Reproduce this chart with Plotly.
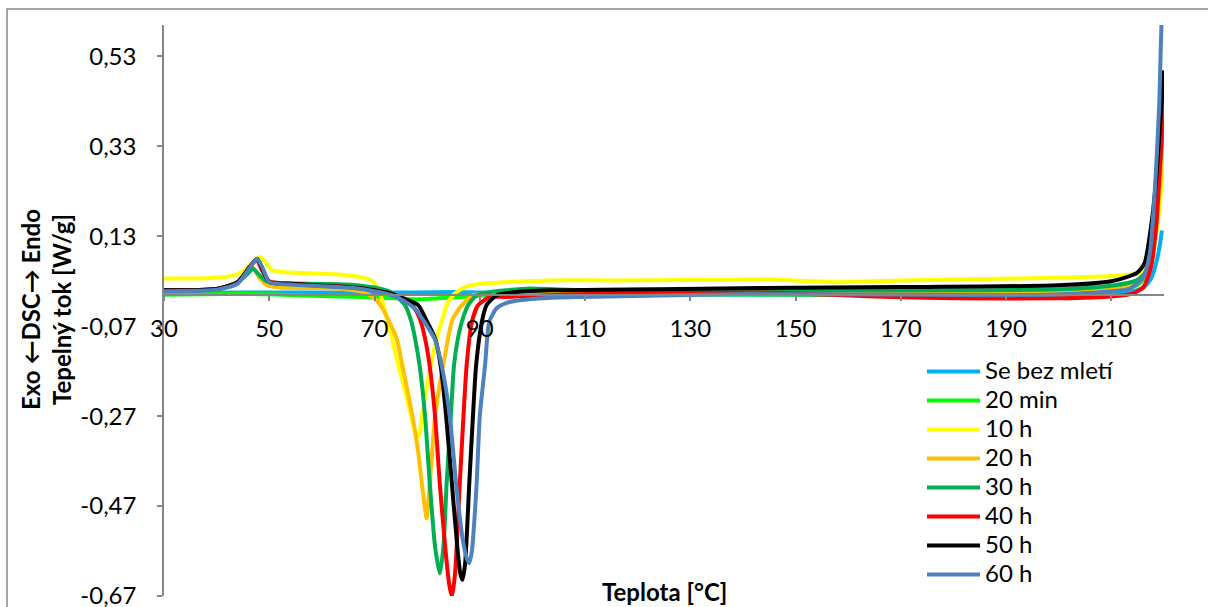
import plotly.graph_objects as go

# ---------------- data ----------------
series_names = ["Se bez mletí", "20 min", "10 h", "20 h", "30 h", "40 h", "50 h", "60 h"]
series_colors = ["#00B0F0", "#00FF00", "#FFFF00", "#FFC000", "#00B050", "#FF0000", "#000000", "#4F81BD"]

x_se = [30, 45, 60, 70, 78, 85, 90, 100, 120, 150, 180, 200, 210, 214, 216, 217.5, 218.5, 219.2, 219.6]
y_se = [0.004, 0.005, 0.005, 0.005, 0.005, 0.006, 0.005, 0.003, 0.001, 0.0, -0.001, 0.0, 0.004, 0.008,
        0.015, 0.035, 0.07, 0.11, 0.143]

x_20min = [30, 45, 50, 60, 68, 74, 78, 82, 86, 90, 100, 130, 160, 190, 205, 212, 215, 217, 218.5, 219.3, 220]
y_20min = [0.0, 0.002, 0.001, -0.003, -0.005, -0.008, -0.010, -0.008, -0.005, -0.002, 0.0, 0.001, 0.0, 0.0,
           0.004, 0.012, 0.022, 0.05, 0.14, 0.26, 0.366]

x_10h = [30, 38, 43, 45.5, 47, 48.2, 49.3, 50.5, 53, 58, 63, 67, 69, 69.8, 70.8, 71.7, 72.5, 73.3, 74.4,
         75.5, 76.7, 77.6, 78.3, 78.7, 79.0, 80.0, 81.0, 82.0, 83.0, 83.8, 85.0, 86.5, 88.0, 90.7, 95, 103,
         115, 130, 145, 158, 170, 185, 200, 210, 214.8, 216.5, 218, 219.2, 220]
y_10h = [0.036, 0.037, 0.042, 0.056, 0.072, 0.084, 0.072, 0.055, 0.050, 0.048, 0.045, 0.040, 0.034, 0.028,
         0.010, -0.023, -0.06, -0.097, -0.15, -0.20, -0.257, -0.30, -0.316, -0.30, -0.27, -0.20, -0.14,
         -0.09, -0.05, -0.02, 0.0, 0.013, 0.020, 0.025, 0.028, 0.032, 0.032, 0.033, 0.034, 0.028, 0.032,
         0.035, 0.038, 0.042, 0.047, 0.06, 0.10, 0.20, 0.321]

x_20h = [30, 40, 44, 46, 46.8, 48, 49.5, 52, 58, 64, 67.9, 70, 71.5, 73, 74.2, 75.5, 77.2, 78.3, 79.0,
         79.9, 80.5, 81.5, 82.4, 83.3, 84.8, 86.6, 88.8, 92, 96, 110, 140, 170, 198, 210, 214.5, 216.5,
         218, 219.2, 220]
y_20h = [0.010, 0.013, 0.028, 0.055, 0.062, 0.040, 0.022, 0.016, 0.015, 0.013, 0.006, -0.008, -0.03,
         -0.065, -0.097, -0.17, -0.27, -0.35, -0.42, -0.497, -0.42, -0.27, -0.20, -0.14, -0.055, -0.023,
         -0.001, 0.002, 0.003, 0.004, 0.004, 0.004, 0.006, 0.012, 0.025, 0.045, 0.11, 0.24, 0.38]

x_30h = [30, 40, 44, 46, 46.9, 48, 49.5, 52, 60, 66, 70, 73, 75.8, 77.0, 77.7, 78.6, 79.6, 80.5, 81.5,
         82.4, 83.1, 83.7, 84.5, 85.1, 85.8, 86.6, 87.8, 89.4, 92, 95, 99.5, 110, 140, 170, 200, 210,
         214.8, 216.5, 218, 219.2, 220]
y_30h = [0.010, 0.013, 0.027, 0.048, 0.058, 0.045, 0.030, 0.026, 0.024, 0.022, 0.016, 0.006, -0.023,
         -0.06, -0.097, -0.16, -0.27, -0.42, -0.56, -0.62, -0.56, -0.42, -0.27, -0.157, -0.10, -0.06,
         -0.023, -0.001, 0.006, 0.010, 0.014, 0.010, 0.010, 0.010, 0.012, 0.020, 0.032, 0.05, 0.12, 0.28, 0.40]

x_40h = [30, 40, 44, 46.3, 47.6, 48.6, 50, 55, 60, 66, 70, 73, 75, 77.1, 78.5, 79.6, 80.5, 81.5, 82.4,
         83.5, 84.2, 84.7, 85.3, 86.2, 86.9, 87.5, 88.5, 89.7, 91.9, 95, 100, 113, 143, 150, 165, 180,
         200, 210, 214.2, 216.1, 217.5, 218.5, 219.3, 220]
y_40h = [0.010, 0.013, 0.028, 0.062, 0.078, 0.055, 0.030, 0.024, 0.021, 0.017, 0.010, 0.002, -0.007,
         -0.023, -0.05, -0.097, -0.16, -0.27, -0.42, -0.57, -0.645, -0.671, -0.62, -0.42, -0.27, -0.157,
         -0.06, -0.023, -0.005, -0.005, -0.002, 0.002, 0.005, 0.003, -0.004, -0.008, -0.008, -0.004,
         0.003, 0.017, 0.06, 0.15, 0.30, 0.447]

x_50h = [30, 40, 44, 46.3, 47.7, 48.8, 50, 55, 60, 66, 70, 73, 75.5, 78.3, 80, 81.5, 82.6, 83.6, 84.7,
         85.8, 86.3, 86.7, 87.2, 88.0, 88.7, 89.3, 90.4, 91.3, 93.2, 96, 103.3, 113, 143, 170, 200, 210,
         214.8, 216.3, 217.7, 218.6, 219.3, 220]
y_50h = [0.010, 0.013, 0.028, 0.062, 0.080, 0.055, 0.028, 0.024, 0.020, 0.016, 0.010, 0.003, -0.008,
         -0.023, -0.06, -0.097, -0.16, -0.27, -0.42, -0.57, -0.62, -0.634, -0.60, -0.42, -0.27, -0.157,
         -0.06, -0.023, -0.001, 0.005, 0.010, 0.011, 0.015, 0.017, 0.021, 0.030, 0.048, 0.07, 0.166, 0.27,
         0.388, 0.499]

x_60h = [30, 40, 44, 46.3, 47.7, 48.8, 50, 55, 60, 66, 70, 73, 75.5, 78, 80, 81.5, 82.8, 84.3, 85.5,
         86.7, 87.5, 88.0, 88.5, 89.4, 90.0, 91.0, 91.8, 93.2, 95.1, 97.6, 103, 109, 143, 190, 204, 213.5,
         216.1, 217.3, 218.3, 219.1, 219.5, 220]
y_60h = [0.008, 0.011, 0.025, 0.060, 0.080, 0.058, 0.028, 0.022, 0.019, 0.015, 0.008, 0.0, -0.013,
         -0.035, -0.07, -0.10, -0.16, -0.27, -0.42, -0.54, -0.585, -0.597, -0.57, -0.42, -0.27, -0.157,
         -0.06, -0.03, -0.018, -0.012, -0.007, -0.005, 0.002, -0.001, 0.003, 0.014, 0.040, 0.092, 0.24,
         0.425, 0.595, 0.70]

series_x = [x_se, x_20min, x_10h, x_20h, x_30h, x_40h, x_50h, x_60h]
series_y = [y_se, y_20min, y_10h, y_20h, y_30h, y_40h, y_50h, y_60h]

x_tick_vals = [30, 50, 70, 90, 110, 130, 150, 170, 190, 210]
x_tick_labels = ["30", "50", "70", "90", "110", "130", "150", "170", "190", "210"]
y_tick_vals = [-0.67, -0.47, -0.27, -0.07, 0.13, 0.33, 0.53]
y_tick_labels = ["-0,67", "-0,47", "-0,27", "-0,07", "0,13", "0,33", "0,53"]

x_range = [30, 220]
y_range = [-0.67, 0.6]

x_title = "Teplota [°C]"
y_title = "<b>Exo ←DSC→ Endo<br>Tepelný tok [W/g]</b>"

# ---------------- figure ----------------
FONT = "Lato"
AXIS_GRAY = "#868686"
LEGEND_TEXT_PX = 24

fig = go.Figure()
for name, color, xs, ys in zip(series_names, series_colors, series_x, series_y):
    fig.add_trace(go.Scatter(
        x=xs, y=ys, mode="lines",
        name='<span style="font-size:%dpx">%s</span>' % (LEGEND_TEXT_PX, name),
        line=dict(color=color, width=4, shape="spline", smoothing=0.6),
    ))

W, H = 1208, 607
ml, mr, mt, mb = 164, 44, 25, 11
plot_h = H - mt - mb
plot_w = W - ml - mr

def px_to_paper_x(px):
    return (px - ml) / plot_w

def px_to_paper_y(py):
    return (H - mb - py) / plot_h

fig.update_layout(
    width=W, height=H,
    margin=dict(l=ml, r=mr, t=mt, b=mb, autoexpand=False),
    paper_bgcolor="white", plot_bgcolor="white",
    font=dict(family=FONT, size=24, color="black"),
    showlegend=True,
    legend=dict(
        x=px_to_paper_x(922), y=px_to_paper_y(352), xanchor="left", yanchor="top",
        font=dict(family=FONT, size=20, color="black"),
        bgcolor="rgba(0,0,0,0)", itemwidth=53, tracegroupgap=0,
    ),
    xaxis=dict(
        range=x_range, anchor="free", position=(0 - y_range[0]) / (y_range[1] - y_range[0]),
        showline=True, linecolor=AXIS_GRAY, linewidth=1.5,
        ticks="outside", ticklen=5, tickcolor=AXIS_GRAY, tickwidth=1.5,
        tickvals=x_tick_vals, ticktext=x_tick_labels,
        tickfont=dict(family=FONT, size=24, color="black"),
        ticklabelstandoff=8, ticklabeloverflow="allow",
        showgrid=False, zeroline=False,
    ),
    yaxis=dict(
        range=y_range,
        showline=True, linecolor=AXIS_GRAY, linewidth=1.5,
        ticks="outside", ticklen=5, tickcolor=AXIS_GRAY, tickwidth=1.5,
        tickvals=y_tick_vals, ticktext=y_tick_labels,
        tickfont=dict(family=FONT, size=24, color="black"),
        ticklabelstandoff=16, ticklabeloverflow="allow",
        showgrid=False, zeroline=False,
    ),
    shapes=[dict(
        type="rect", xref="paper", yref="paper",
        x0=px_to_paper_x(7), x1=px_to_paper_x(1210),
        y0=px_to_paper_y(620), y1=px_to_paper_y(9),
        line=dict(color=AXIS_GRAY, width=1.5), fillcolor="rgba(0,0,0,0)", layer="below",
    )],
    annotations=[
        dict(text="<b>" + x_title + "</b>", xref="paper", yref="paper",
             x=px_to_paper_x(664), y=px_to_paper_y(591), xanchor="center", yanchor="middle",
             showarrow=False, font=dict(family=FONT, size=24, color="black")),
        dict(text=y_title, xref="paper", yref="paper",
             x=px_to_paper_x(46), y=px_to_paper_y(310), xanchor="center", yanchor="middle",
             textangle=-90, showarrow=False, font=dict(family=FONT, size=24, color="black")),
    ],
)

fig.write_html("out.html")
